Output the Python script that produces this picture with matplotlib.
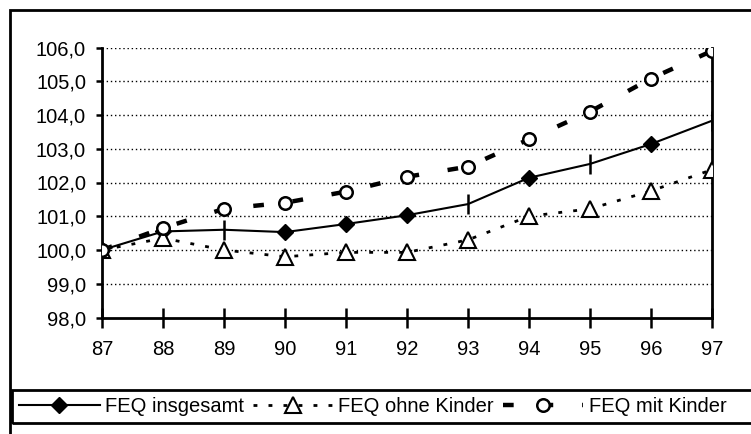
import matplotlib
matplotlib.use("Agg")
import matplotlib.pyplot as plt
from matplotlib.patches import Rectangle

plt.rcParams['font.family'] = ['Liberation Sans', 'DejaVu Sans']

# data
years = [87, 88, 89, 90, 91, 92, 93, 94, 95, 96, 97]
insgesamt = [100.0, 100.55, 100.6, 100.53, 100.77, 101.03, 101.36, 102.14, 102.55, 103.14, 103.83]
ohne_kinder = [100.0, 100.35, 100.0, 99.8, 99.93, 99.93, 100.3, 101.0, 101.22, 101.75, 102.38]
mit_kinder = [100.0, 100.65, 101.22, 101.4, 101.73, 102.17, 102.47, 103.28, 104.1, 105.08, 105.9]
labels = ["FEQ insgesamt", "FEQ ohne Kinder", "FEQ mit Kinder"]
yticks = [98, 99, 100, 101, 102, 103, 104, 105, 106]

# the old chart marks some points of the solid line with a dash instead of a diamond
diamond_idx = [0, 1, 3, 4, 5, 7, 9]
tick_idx = [2, 6, 8, 10]

fs = 14.5

fig = plt.figure(figsize=(7.51, 4.34), dpi=100)
ax = fig.add_axes([102/751, 1 - 317.5/434, 610/751, 270/434])

ax.plot(years, insgesamt, color='black', lw=1.5, marker='D', ms=8,
        markevery=diamond_idx, mfc='black', mec='black', label=labels[0], zorder=3)
ax.plot([years[i] for i in tick_idx], [insgesamt[i] for i in tick_idx], ls='none',
        marker='|', ms=14, mew=1.8, color='black', zorder=3)
ax.plot(years, ohne_kinder, color='black', lw=2, dashes=(1.4, 4), marker='^', ms=11,
        mfc='white', mec='black', mew=1.5, label=labels[1], zorder=4)
ax.plot(years, mit_kinder, color='black', lw=3.2, dashes=(2.4, 6.5), marker='o', ms=9,
        mfc='white', mec='black', mew=1.8, label=labels[2], zorder=5)

ax.set_xlim(87, 97)
ax.set_ylim(98, 106)
ax.set_xticks(years)
ax.set_xticklabels([str(y) for y in years])
ax.set_yticks(yticks)
ax.set_yticklabels([("%.1f" % v).replace('.', ',') for v in yticks])

for v in yticks[1:]:
    ax.axhline(v, color='black', lw=1, ls=(0, (1, 2)), zorder=1)

ax.spines['top'].set_visible(False)
for s in ['left', 'bottom', 'right']:
    ax.spines[s].set_linewidth(2)
    ax.spines[s].set_color('black')

ax.tick_params(axis='x', direction='inout', length=14, width=1.8, pad=9.5, labelsize=fs)
ax.tick_params(axis='y', direction='out', length=4.5, width=1.8, pad=7, labelsize=fs)

# outer frame of the chart
fig.patches.append(Rectangle((10/751, -0.1), 1.0, 1.1 - 10/434, transform=fig.transFigure,
                             fill=False, edgecolor='black', lw=2, clip_on=False))
# legend box
fig.patches.append(Rectangle((12/751, 1 - 423/434), 1.0, 33/434, transform=fig.transFigure,
                             fill=False, edgecolor='black', lw=2, clip_on=False))

fig.legend(loc='center left', bbox_to_anchor=(19/751, 1 - 407/434), ncol=3, frameon=False,
           handlelength=4.0, handletextpad=0.25, columnspacing=0.45, numpoints=1,
           borderaxespad=0, borderpad=0, fontsize=fs)

fig.savefig("out.png", dpi=100)
